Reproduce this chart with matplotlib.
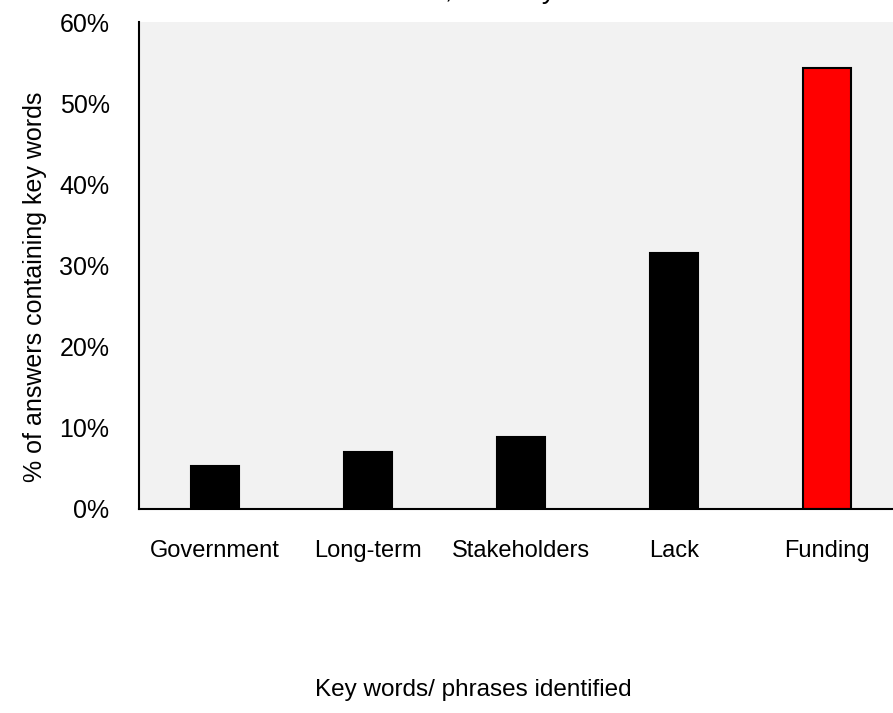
import matplotlib
matplotlib.use("Agg")
import matplotlib.pyplot as plt
from matplotlib.ticker import PercentFormatter

plt.rcParams['font.family'] = ['Liberation Sans', 'DejaVu Sans']

# data
categories = ['Government', 'Long-term', 'Stakeholders', 'Lack', 'Funding']
values = [5.3, 7.0, 8.9, 31.5, 54.3]
bar_colors = ['black', 'black', 'black', 'black', 'red']
yticks = [0, 10, 20, 30, 40, 50, 60]

fig = plt.figure(figsize=(8.93, 7.13), dpi=100)
# plot area runs past the right edge of the picture, as in the reference
ax = fig.add_axes([138.7 / 893, 204 / 713, 765 / 893, 487 / 713])
ax.set_facecolor('#f2f2f2')

x = list(range(len(categories)))
ax.bar(x, values, width=0.31, color=bar_colors, edgecolor='black', linewidth=1.5)

ax.set_xlim(-0.5, 4.5)
ax.set_ylim(0, 60)
ax.set_yticks(yticks)
ax.yaxis.set_major_formatter(PercentFormatter(decimals=0))
ax.set_xticks(x)
ax.set_xticklabels(categories)

ax.tick_params(axis='y', length=0, pad=21, labelsize=18)
ax.tick_params(axis='x', length=0, pad=22, labelsize=17)

for s in ['top', 'right']:
    ax.spines[s].set_visible(False)
for s in ['left', 'bottom']:
    ax.spines[s].set_linewidth(1.5)
    ax.spines[s].set_color('black')

fig.text(35 / 893, 1 - 287 / 713, '% of answers containing key words',
         rotation=90, ha='center', va='center', fontsize=18)

fig.text(473 / 893, 1 - 690 / 713, 'Key words/ phrases identified',
         ha='center', va='center', fontsize=17.5)

# title is mostly cut off at the top edge in the reference
fig.text(500 / 893, 1 + 2 / 713, 'Main barriers, cited by interviewees',
         ha='center', va='baseline', fontsize=20)

fig.savefig('out.png', dpi=100)
